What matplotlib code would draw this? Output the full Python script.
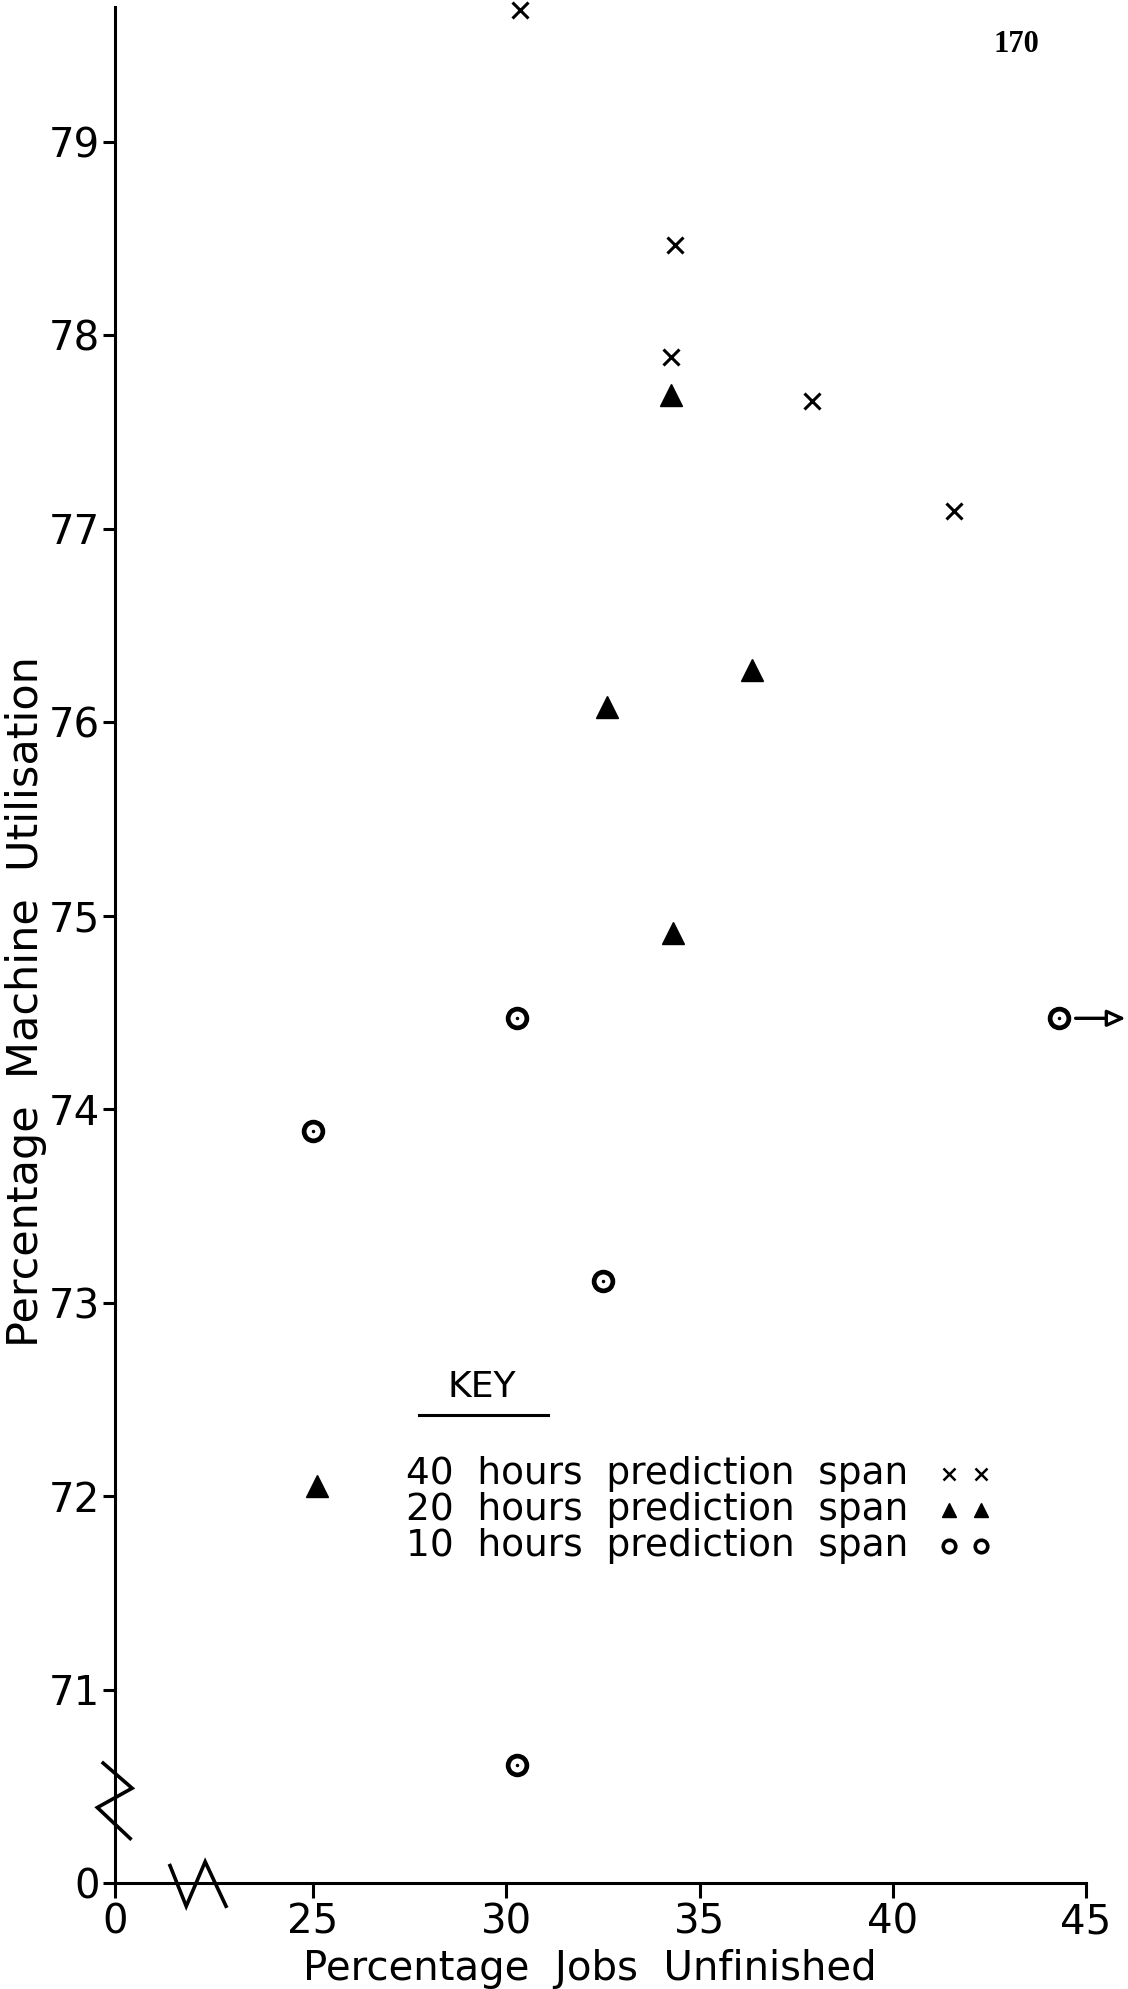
import matplotlib
matplotlib.use('Agg')
import matplotlib.pyplot as plt
from matplotlib.transforms import offset_copy

plt.rcParams['font.family'] = ['DejaVu Sans']

# ---------------- data ----------------
span40_x = [30.36, 34.36, 34.25, 37.90, 41.58]
span40_y = [79.68, 78.47, 77.89, 77.66, 77.09]

span20_x = [34.25, 32.60, 36.35, 34.32, 25.10]
span20_y = [77.69, 76.08, 76.27, 74.91, 72.05]

span10_x = [30.29, 25.00, 32.50, 30.29, 44.30]
span10_y = [74.47, 73.89, 73.11, 70.61, 74.47]

offscale_x = [44.30]          # point whose true value lies beyond the axis
offscale_y = [74.47]

x_ticks = [25, 30, 35, 40, 45]
y_ticks = [71, 72, 73, 74, 75, 76, 77, 78, 79]
legend_labels = ["40  hours  prediction  span",
                 "20  hours  prediction  span",
                 "10  hours  prediction  span"]

# ---------------- layout ----------------
W, H = 1128, 1989
fig = plt.figure(figsize=(W / 100, H / 100), dpi=100)
fig.patch.set_facecolor('white')

x_lo, x_hi = 19.877, 45.0
y_lo, y_hi = 70.0, 79.70
ax = fig.add_axes([115 / W, 106 / H, 971 / W, (1883 - 6.6) / H])
ax.set_xlim(x_lo, x_hi)
ax.set_ylim(y_lo, y_hi)

for s in ['top', 'right']:
    ax.spines[s].set_visible(False)
for s in ['left', 'bottom']:
    ax.spines[s].set_linewidth(2.2)

ax.set_xticks([x_lo] + x_ticks)
ax.set_xticklabels(['0'] + [str(t) for t in x_ticks])
ax.set_yticks([y_lo] + y_ticks)
ax.set_yticklabels(['0'] + [str(t) for t in y_ticks])
ax.tick_params(axis='x', direction='out', length=11, width=2.2, pad=3, labelsize=29)
ax.tick_params(axis='y', direction='out', length=9, width=2.2, pad=2, labelsize=29)

# ---------------- markers ----------------
ax.plot(span40_x, span40_y, linestyle='none', marker='x', ms=11, mew=2.2,
        color='black', clip_on=False)
ax.plot(span20_x, span20_y, linestyle='none', marker='^', ms=15.5,
        color='black', clip_on=False)
ax.plot(span10_x, span10_y, linestyle='none', marker='o', ms=13.5, mew=3.4,
        mfc='white', mec='black', clip_on=False)
ax.plot(span10_x, span10_y, linestyle='none', marker='.', ms=3,
        color='black', clip_on=False)

# arrow for the off-scale point
for xv, yv in zip(offscale_x, offscale_y):
    ax.annotate('', xy=(xv, yv), xycoords=offset_copy(ax.transData, fig=fig, x=48, y=0, units='points'),
                xytext=(xv, yv), textcoords=offset_copy(ax.transData, fig=fig, x=12, y=0, units='points'),
                arrowprops=dict(arrowstyle='-|>,head_length=1.1,head_width=0.5', lw=2.4,
                                fc='white', ec='black', shrinkA=0, shrinkB=0),
                annotation_clip=False)

# ---------------- axis break symbols ----------------
ybreak = ([19.57, 20.32, 19.42, 20.27], [70.62, 70.49, 70.39, 70.23])
xbreak = ([21.30, 21.72, 22.21, 22.75], [70.09, 69.88, 70.11, 69.88])
ax.plot(*ybreak, color='black', lw=2.6, clip_on=False, solid_joinstyle='miter')
ax.plot(*xbreak, color='black', lw=2.6, clip_on=False, solid_joinstyle='miter')

# ---------------- axis titles ----------------
fig.text(590 / W, 1 - 1969 / H, 'Percentage  Jobs  Unfinished', ha='center', va='center', fontsize=29)
fig.text(26 / W, 1 - 1002 / H, 'Percentage  Machine  Utilisation', ha='center', va='center',
         rotation=90, fontsize=31)

# page number
fig.text(1016 / W, 1 - 44 / H, '170', ha='center', va='center', fontsize=22,
         family='Liberation Serif', weight='bold')

# ---------------- key ----------------
fig.text(482 / W, 1 - 1387 / H, 'KEY', ha='center', va='center', fontsize=26)
fig.add_artist(plt.Line2D([419 / W, 548 / W], [1 - 1415 / H, 1 - 1415 / H], color='black', lw=2.2))
row_y = [1474, 1510, 1546]
key_markers = [dict(marker='x', ms=9, mew=1.8, color='black'),
               dict(marker='^', ms=10, color='black'),
               dict(marker='o', ms=9, mew=2.6, mfc='white', mec='black')]
for lab, ry, mk in zip(legend_labels, row_y, key_markers):
    fig.text(406 / W, 1 - ry / H, lab, ha='left', va='center', fontsize=27)
    fig.add_artist(plt.Line2D([949 / W, 981 / W], [1 - ry / H, 1 - ry / H], linestyle='none', **mk))

fig.savefig('out.png', dpi=100, facecolor='white')
